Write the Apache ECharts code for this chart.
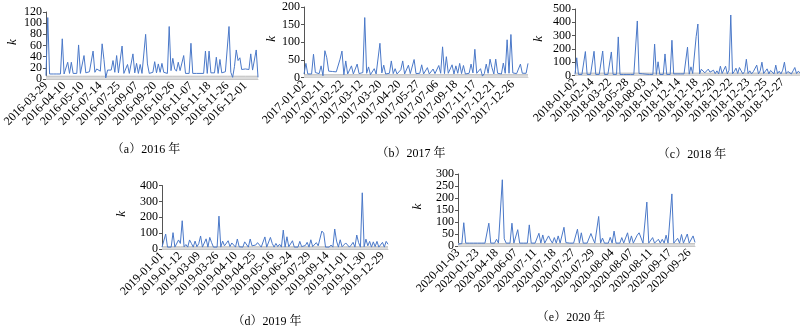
<!DOCTYPE html>
<html><head><meta charset="utf-8">
<script src="https://cdn.jsdelivr.net/npm/echarts@6/dist/echarts.min.js"></script>
<style>html,body{margin:0;padding:0;background:#fff}#c{width:800px;height:327px}</style>
</head><body><div id="c"></div>
<script>
// ---- data ----
const labelsA = ['2016-03-29','2016-04-10','2016-05-10','2016-07-14','2016-07-25','2016-09-07','2016-09-20','2016-10-26','2016-11-07','2016-11-18','2016-11-26','2016-12-01'];
const labelsB = ['2017-01-02','2017-02-11','2017-02-22','2017-03-12','2017-03-20','2017-04-20','2017-05-27','2017-07-06','2017-09-18','2017-11-17','2017-12-21','2017-12-26'];
const labelsC = ['2018-01-02','2018-02-14','2018-03-22','2018-05-28','2018-08-03','2018-10-14','2018-12-14','2018-12-18','2018-12-20','2018-12-22','2018-12-23','2018-12-25','2018-12-27'];
const labelsD = ['2019-01-01','2019-01-12','2019-03-09','2019-03-26','2019-04-10','2019-04-25','2019-05-16','2019-06-24','2019-07-29','2019-09-14','2019-11-01','2019-11-30','2019-12-29'];
const labelsE = ['2020-01-03','2020-01-23','2020-04-18','2020-06-07','2020-07-11','2020-07-18','2020-07-27','2020-07-29','2020-08-04','2020-08-07','2020-08-11','2020-09-17','2020-09-26'];

const kA = [6,110,9,9,9,9,9,9,9,72,9,10,30,10,30,10,11,10,61,10,11,42,11,12,13,12,50,12,18,18,14,63,35,2,16,17,16,33,12,42,11,10,59,10,11,26,10,12,45,11,28,10,26,10,11,80,27,10,11,12,31,11,27,12,28,12,11,10,94,15,37,18,14,30,15,12,42,10,10,10,64,10,10,10,10,10,10,10,50,10,50,11,12,11,39,10,35,11,12,13,12,94,12,3,22,52,33,38,17,18,18,18,17,45,16,17,52,3];
const kB = [10,40,10,10,10,66,14,12,11,33,5,76,56,18,18,17,17,16,15,52,75,8,47,10,11,33,10,12,38,11,12,14,170,12,30,8,12,25,10,12,97,13,35,10,9,12,47,11,25,10,12,22,47,10,9,35,11,10,51,11,10,12,36,10,11,28,10,12,24,11,10,34,12,87,11,59,12,11,36,10,33,12,40,11,34,10,11,12,38,13,80,12,10,25,4,11,38,12,52,28,10,52,12,11,10,41,12,107,12,122,13,12,11,12,38,12,11,12,40];
const kC = [8,133,8,8,8,8,180,8,8,8,8,182,8,8,8,8,184,8,8,8,8,177,8,8,8,290,8,8,8,8,8,8,8,8,8,8,410,15,14,13,12,10,9,8,8,8,236,8,103,8,8,8,162,8,8,8,265,12,12,12,12,12,12,12,10,213,10,65,15,30,292,387,12,47,52,20,12,48,25,12,40,14,35,12,70,15,30,70,12,40,455,12,30,55,15,60,35,12,30,122,15,35,12,28,40,78,12,35,100,15,30,50,12,38,25,12,78,15,32,12,40,100,14,30,44,12,35,60,15,32,20];
const kD = [12,12,94,12,12,12,103,12,15,57,35,178,14,28,12,57,35,12,50,14,33,82,12,20,64,12,73,40,12,22,12,207,12,50,20,12,52,15,38,30,12,63,14,25,12,45,38,12,63,20,12,25,40,47,12,20,76,12,22,73,35,12,35,15,30,12,119,12,77,14,20,52,12,18,12,48,15,12,22,42,12,58,15,12,40,20,12,113,100,12,20,12,25,12,126,50,12,58,14,20,38,40,12,25,42,12,88,40,12,354,14,62,20,48,12,45,15,48,12,22,42,12,48,30];
const kE = [8,15,10,97,12,12,12,12,12,12,12,12,12,12,12,12,95,12,20,12,28,12,14,276,30,12,18,12,95,12,13,68,12,12,12,12,12,88,12,12,12,12,53,12,46,12,14,42,25,12,35,12,42,12,12,78,14,12,12,12,12,12,70,12,55,12,12,12,14,52,30,12,14,123,12,33,12,14,12,36,12,62,12,14,12,35,12,14,55,12,42,12,14,45,55,58,12,14,183,12,14,35,12,14,28,12,28,12,45,12,14,217,12,14,32,12,48,12,14,50,12,14,42,15];

const baseA = [5,5,5,5,5,5,5,5,5,5,5,5,5];
const baseB = [8,8,8,8,8,8,8,8,8,8,8,8,8];
const baseC = [18,18,18,18,18,18,18,18,18,18,18,18,18,18];
const baseD = [14,14,14,14,14,14,14,14,14,14,14,14,14,14];
const baseE = [10,10,10,10,10,10,10,10,10,10,10,10,10,10];

const titles = ['（a）2016 年','（b）2017 年','（c）2018 年','（d）2019 年','（e）2020 年'];
const yTicksA = [0, 20, 40, 60, 80, 100, 120];
const yTicksB = [0, 50, 100, 150, 200];
const yTicksC = [0, 100, 200, 300, 400, 500];
const yTicksD = [0, 100, 200, 300, 400];
const yTicksE = [0, 50, 100, 150, 200, 250, 300];

// ---- layout ----
const FONT = '"Liberation Serif", "Times New Roman", "Noto Serif CJK SC", "Noto Sans CJK SC", serif';
const grids = [
  {left: 42, top: 12, width: 216, height: 67},
  {left: 304, top: 7, width: 224, height: 70.5},
  {left: 575, top: 9, width: 225, height: 66.5},
  {left: 162, top: 185.5, width: 226, height: 63.5},
  {left: 458, top: 174, width: 237, height: 72}
];
const nameGaps = [27, 26, 30, 34, 34];
const titlePos = [[141, 139], [406, 143], [687, 144], [262, 311], [566, 307]];
const panels = [[kA, labelsA, baseA, yTicksA],[kB, labelsB, baseB, yTicksB],[kC, labelsC, baseC, yTicksC],[kD, labelsD, baseD, yTicksD],[kE, labelsE, baseE, yTicksE]];

const xAxis = [], yAxis = [], series = [], title = [];
const yLabelStyle = {fontSize: 12, color: '#000', fontFamily: FONT, margin: 4,
  showMinLabel: true, showMaxLabel: true, hideOverlap: false};
panels.forEach(([vals, labels, base, yt], p) => {
  const maxX = vals.length - 1;
  const yMax = yt[yt.length - 1];
  const yStep = yt[1] - yt[0];
  // split tick labels into two interleaved sets so none are dropped for crowding
  const evenT = yt.filter((_, i) => i % 2 === 0);
  const oddT = yt.filter((_, i) => i % 2 === 1);
  xAxis.push({
    type: 'value', gridIndex: p, min: 0, max: maxX, interval: 10,
    axisLine: {show: true, lineStyle: {color: '#c8c8c8', width: 1}},
    axisTick: {show: false}, splitLine: {show: false},
    axisLabel: {
      rotate: 45, margin: 5, fontSize: 12, color: '#000', fontFamily: FONT,
      showMaxLabel: false, showMinLabel: true, hideOverlap: false,
      formatter: v => (v % 10 === 0 && labels[v / 10]) ? labels[v / 10] : ''
    }
  });
  const yMain = yAxis.length;
  yAxis.push({
    type: 'value', gridIndex: p, min: 0, max: yMax, interval: yStep, position: 'left',
    name: 'k', nameLocation: 'middle', nameGap: nameGaps[p], nameRotate: 90,
    nameTextStyle: {fontStyle: 'italic', fontSize: 13, color: '#000', fontFamily: FONT, padding: [0, 0, 0, 7]},
    axisLine: {show: true, lineStyle: {color: '#555', width: 1}},
    axisTick: {show: true, length: 3, customValues: yt, lineStyle: {color: '#555'}},
    splitLine: {show: false},
    axisLabel: Object.assign({customValues: evenT}, yLabelStyle)
  });
  yAxis.push({
    type: 'value', gridIndex: p, min: 0, max: yMax, interval: yStep, position: 'left', offset: 0,
    axisLine: {show: false}, axisTick: {show: false}, splitLine: {show: false},
    axisLabel: Object.assign({customValues: oddT}, yLabelStyle)
  });
  series.push({
    type: 'line', xAxisIndex: p, yAxisIndex: yMain, symbol: 'none', silent: true,
    lineStyle: {color: '#c0c0c0', width: 1},
    areaStyle: {color: '#dcdcdc', opacity: 1},
    data: base.map((v, i) => [Math.min(i * 10, maxX), v]),
    z: 1
  });
  series.push({
    type: 'line', xAxisIndex: p, yAxisIndex: yMain, symbol: 'none', silent: true,
    lineStyle: {color: '#4a78c8', width: 1},
    data: vals.map((v, i) => [i, v]),
    z: 2
  });
  title.push({
    text: titles[p], left: titlePos[p][0], top: titlePos[p][1], textAlign: 'center',
    textStyle: {fontSize: 12, fontWeight: 'normal', color: '#000', fontFamily: FONT}
  });
});

const chart = echarts.init(document.getElementById('c'), null, {renderer: 'canvas'});
chart.setOption({
  animation: false,
  backgroundColor: '#fff',
  title, grid: grids, xAxis, yAxis, series
});
</script>
</body></html>
